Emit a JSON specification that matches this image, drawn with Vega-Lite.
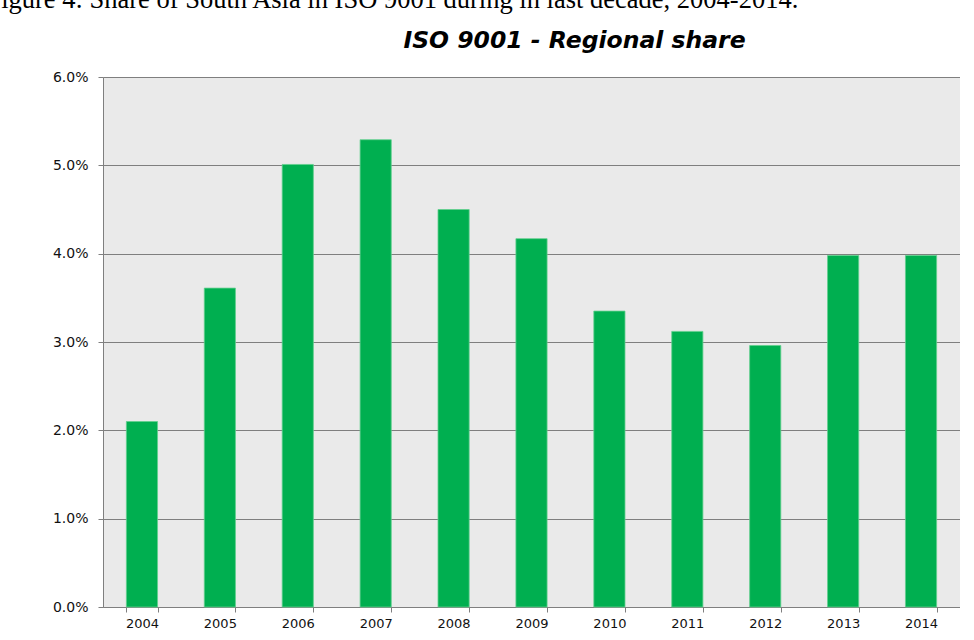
{
  "$schema": "https://vega.github.io/schema/vega-lite/v6.json",
  "background": "white",
  "padding": {"left": -14, "top": -14, "right": 0, "bottom": 0},
  "title": {
    "text": "Figure 4: Share of South Asia in ISO 9001 during in last decade, 2004-2014.",
    "font": "Liberation Serif",
    "fontSize": 26.5,
    "fontWeight": "normal",
    "color": "black",
    "anchor": "start",
    "frame": "bounds",
    "baseline": "alphabetic",
    "offset": -5,
    "dx": -66
  },
  "vconcat": [
    {
      "width": 857,
      "height": 530,
      "title": {
        "text": "ISO 9001 - Regional share",
        "font": "DejaVu Sans",
        "fontSize": 23.5,
        "fontWeight": "bold",
        "fontStyle": "italic",
        "color": "black",
        "anchor": "middle",
        "frame": "group",
        "baseline": "alphabetic",
        "offset": -1.5,
        "dx": 43
      },
      "data": {
        "values": [
          {"year": "2004", "share": 0.0210},
          {"year": "2005", "share": 0.0361},
          {"year": "2006", "share": 0.0501},
          {"year": "2007", "share": 0.0529},
          {"year": "2008", "share": 0.0450},
          {"year": "2009", "share": 0.0417},
          {"year": "2010", "share": 0.0335},
          {"year": "2011", "share": 0.0312},
          {"year": "2012", "share": 0.0296},
          {"year": "2013", "share": 0.0398},
          {"year": "2014", "share": 0.0398}
        ]
      },
      "mark": {"type": "bar", "color": "#00AF50", "stroke": "#62CF8E", "strokeWidth": 0.8},
      "encoding": {
        "x": {
          "field": "year",
          "type": "ordinal",
          "scale": {"paddingInner": 0.6, "paddingOuter": 0.3},
          "axis": {
            "title": null,
            "labelAngle": 0,
            "tickBand": "extent",
            "labelPadding": 5
          }
        },
        "y": {
          "field": "share",
          "type": "quantitative",
          "scale": {"domain": [0, 0.06], "nice": false},
          "axis": {
            "title": null,
            "values": [0, 0.01, 0.02, 0.03, 0.04, 0.05, 0.06],
            "format": ".1%",
            "grid": true,
            "labelPadding": 10,
            "labelFontSize": 14
          }
        }
      }
    }
  ],
  "config": {
    "view": {"fill": "#EAEAEA", "stroke": null},
    "axis": {
      "labelFont": "DejaVu Sans",
      "labelFontSize": 13,
      "labelColor": "#111111",
      "domainColor": "#7F7F7F",
      "tickColor": "#7F7F7F",
      "gridColor": "#7F7F7F",
      "tickSize": 5,
      "domainWidth": 1,
      "tickWidth": 1,
      "gridWidth": 1
    }
  }
}
